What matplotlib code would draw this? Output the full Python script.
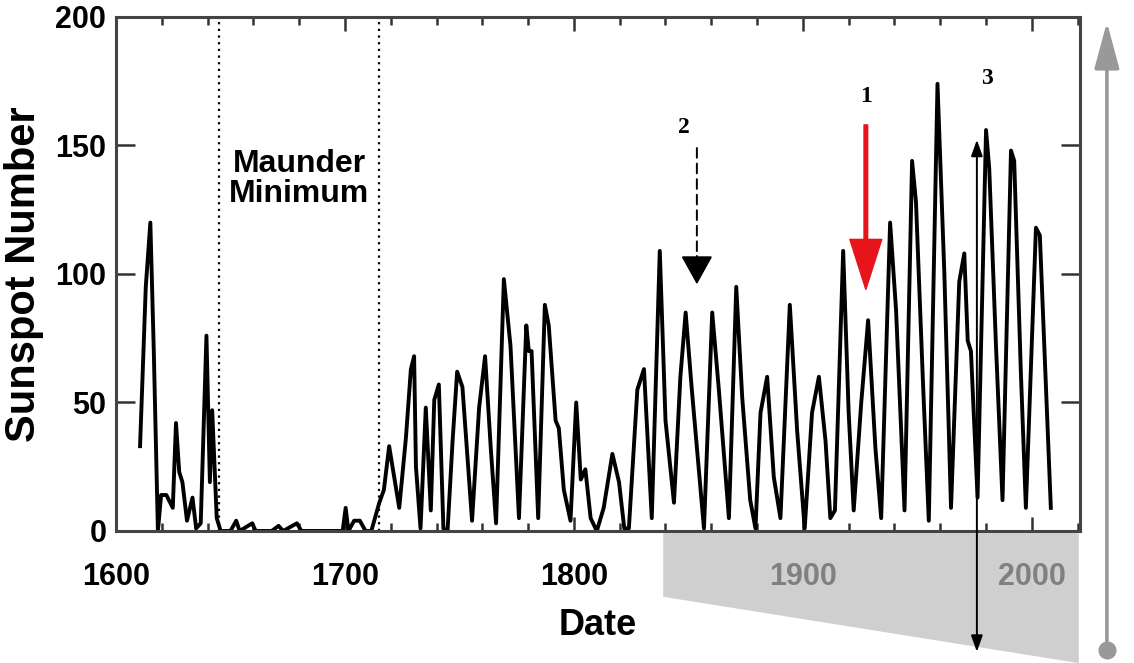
import matplotlib
matplotlib.use('Agg')
import matplotlib.pyplot as plt
from matplotlib import font_manager
from matplotlib.patches import Polygon
from matplotlib.ticker import MultipleLocator

# group sunspot number (year, value)
years = [1610.5, 1613, 1615, 1616.5, 1618.3, 1619.7, 1622, 1624.8, 1626.2, 1627.6,
         1629, 1631, 1633.4, 1635, 1637, 1639.5, 1641, 1642, 1644, 1645.7,
         1650, 1652.5, 1654, 1659.5, 1661, 1668, 1671, 1673, 1679, 1681,
         1699, 1700.3, 1701.5, 1704, 1706.5, 1709, 1711.5, 1715, 1717, 1719.3,
         1721.5, 1723.7, 1726.6, 1728.8, 1730.2, 1731, 1733, 1735.3, 1737.5, 1739,
         1741, 1743, 1744.8, 1747, 1749, 1751.3, 1755.5, 1758.6, 1761.2, 1763.7,
         1766, 1769.4, 1772.3, 1776, 1779.2, 1780.3, 1781.5, 1784.4, 1787.3, 1789,
         1792, 1793.4, 1795.6, 1798.5, 1801, 1803, 1805, 1807.3, 1810, 1813,
         1816.8, 1819.7, 1822, 1824, 1827.7, 1830.6, 1834, 1837.5, 1840, 1843.7,
         1846.5, 1848.8, 1851.4, 1856.8, 1860.4, 1863.3, 1867.7, 1870.9, 1873.5, 1877,
         1879.3, 1881.5, 1884.4, 1887.3, 1890.2, 1894.3, 1897.5, 1900.8, 1904, 1907,
         1909.9, 1912, 1914, 1917.6, 1920, 1922.2, 1925.5, 1928.5, 1931.7, 1934.2,
         1938.1, 1940.7, 1944.4, 1947.7, 1949.4, 1952.4, 1955, 1958.8, 1961.8, 1964.7,
         1968.3, 1970.5, 1972, 1973.4, 1976.3, 1980, 1981.4, 1984.3, 1987.2, 1990.9,
         1992.3, 1995.2, 1997.4, 2001.8, 2003.5, 2008.3]
ssn = [33, 95, 120, 70, 0, 14, 14, 9, 42, 23,
       19, 4, 13, 1, 3, 76, 19, 47, 5, 0,
       0, 4, 0, 3, 0, 0, 2, 0, 3, 0,
       0, 9, 0, 4, 4, 0, 0, 11, 16, 33,
       21, 9, 36, 63, 68, 25, 1, 48, 8, 51,
       57, 1, 0, 35, 62, 56, 4, 48, 68, 32,
       3, 98, 72, 5, 80, 70, 70, 5, 88, 80,
       43, 40, 16, 4, 50, 20, 24, 5, 0, 9,
       30, 19, 1, 1, 55, 63, 5, 109, 43, 11,
       60, 85, 56, 1, 85, 55, 5, 95, 52, 12,
       1, 46, 60, 21, 5, 88, 39, 1, 46, 60,
       35, 5, 8, 109, 46, 8, 50, 82, 32, 5,
       120, 86, 8, 144, 128, 59, 4, 174, 100, 9,
       97, 108, 74, 70, 13, 156, 141, 73, 12, 148,
       144, 62, 9, 118, 115, 9]

maunder = [1645, 1715]
xticks = [1600, 1700, 1800, 1900, 2000]
yticks = [0, 50, 100, 150, 200]

names = {f.name for f in font_manager.fontManager.ttflist}
sans = 'Liberation Sans Narrow' if 'Liberation Sans Narrow' in names else 'Liberation Sans'
tsize = 25 if sans.endswith('Narrow') else 22
plt.rcParams['font.family'] = [sans, 'DejaVu Sans']
plt.rcParams['font.weight'] = 'bold'

fig = plt.figure(figsize=(11.34, 6.63), dpi=100)
ax = fig.add_axes([0.1023, 0.1991, 0.8500, 0.7753])

ax.plot(years, ssn, color='black', lw=2.8, solid_joinstyle='round')
for m in maunder:
    ax.axvline(m, color='black', ls=(0, (1, 2)), lw=1.6)
ax.text(1680, 137, 'Maunder\nMinimum', ha='center', va='center', fontsize=23,
        fontweight='bold', linespacing=1.0)

ax.set_xlim(1600, 2021)
ax.set_ylim(0, 200)
ax.set_xticks(xticks)
ax.set_yticks(yticks)
ax.xaxis.set_minor_locator(MultipleLocator(20))
ax.tick_params(which='both', direction='in', top=True, right=True, width=1.8,
               color='#333333', labelsize=tsize)
ax.tick_params(axis='x', which='major', length=10, pad=22)
ax.tick_params(axis='x', which='minor', length=6)
ax.tick_params(axis='y', which='major', length=14, pad=7)
for s in ax.spines.values():
    s.set_linewidth(2.2)
    s.set_color('#444444')
ax.set_xlabel('Date', fontsize=tsize + 4, fontweight='bold', labelpad=12)
ax.set_ylabel('Sunspot Number', fontsize=tsize + 8, fontweight='bold', labelpad=8)

# grey wedge under the modern part of the time axis (drawn over the tick labels)
wedge = Polygon([(1839, -0.004), (2020.5, -0.004), (2020.5, -0.257), (1839, -0.128)],
                closed=True, transform=ax.get_xaxis_transform(), clip_on=False,
                facecolor=(0.73, 0.73, 0.73), edgecolor='none', alpha=0.69, zorder=10)
ax.add_patch(wedge)

# annotations
serif = ['Liberation Serif', 'DejaVu Serif']
ax.annotate('', xy=(1927.5, 94), xytext=(1927.5, 158),
            arrowprops=dict(arrowstyle='simple,head_width=1.15,head_length=1.8,tail_width=0.13',
                            color='#e8141b', mutation_scale=20, shrinkA=0, shrinkB=0),
            zorder=12)
ax.text(1927.5, 169, '1', ha='center', va='center', fontsize=17, fontweight='bold', family=serif)

ax.annotate('', xy=(1853.7, 106), xytext=(1853.7, 149),
            arrowprops=dict(arrowstyle='-', color='black', lw=1.4, linestyle=(0, (5, 3)),
                            shrinkA=0, shrinkB=0), zorder=12)
ax.annotate('', xy=(1853.7, 96), xytext=(1853.7, 107),
            arrowprops=dict(arrowstyle='-|>,head_width=0.5,head_length=0.9', color='black',
                            lw=1.4, mutation_scale=20, shrinkA=0, shrinkB=0), zorder=12)
ax.text(1848, 157, '2', ha='center', va='center', fontsize=17, fontweight='bold', family=serif)

ax.annotate('', xy=(1976, 0.761), xytext=(1976, -0.235),
            xycoords=('data', 'axes fraction'), textcoords=('data', 'axes fraction'),
            arrowprops=dict(arrowstyle='<|-|>,head_width=0.25,head_length=0.7', color='black',
                            lw=1.4, mutation_scale=14, shrinkA=0, shrinkB=0),
            annotation_clip=False, zorder=12)
ax.text(1980.5, 176, '3', ha='center', va='center', fontsize=17, fontweight='bold', family=serif)

ax.annotate('', xy=(1.028, 0.99), xytext=(1.028, -0.232), xycoords='axes fraction',
            arrowprops=dict(arrowstyle='-|>,head_width=0.35,head_length=1.3', color='#999999',
                            lw=2.6, mutation_scale=22, shrinkA=0, shrinkB=0),
            annotation_clip=False, zorder=12)
ax.plot([1.028], [-0.232], 'o', ms=12, color='#999999', transform=ax.transAxes, clip_on=False)

fig.savefig('out.png', dpi=100)
